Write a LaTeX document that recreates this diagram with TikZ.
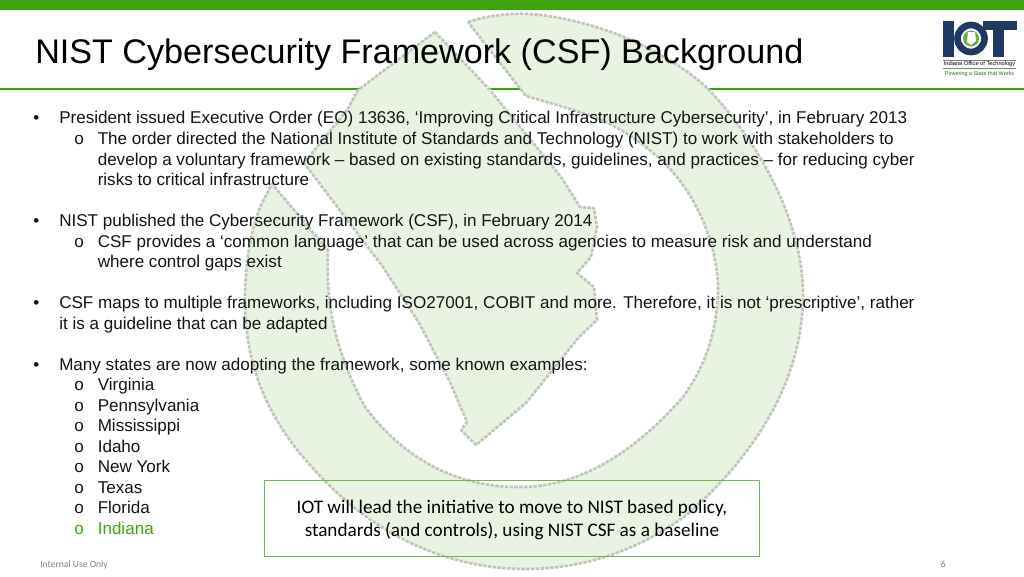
\documentclass[tikz,border=0pt]{standalone}
\usepackage{fontspec}
\setmainfont{Liberation Sans}
\newfontfamily\boxfont{Carlito}
\usetikzlibrary{positioning}
\definecolor{iotgreen}{HTML}{3FA40B}
\definecolor{iotnavy}{HTML}{1F3864}
\definecolor{ringfill}{HTML}{E8F3E2}
\definecolor{ringedge}{HTML}{BFC6BB}
\definecolor{boxedge}{HTML}{74B451}
\begin{document}
\begin{tikzpicture}[x=0.75pt,y=-0.75pt,line join=round]
	\tikzset{
		bodyline/.style={anchor=base west,inner sep=0pt,font=\fontsize{12.8}{14}\selectfont,text=black!92},
		ringpart/.style={fill=ringfill,draw=ringedge,line width=2pt,dash pattern=on 2.6pt off 1pt},
	}
	\useasboundingbox (0,0) rectangle (1024,576);
	\fill[white] (0,0) rectangle (1024,576);
	\fill[iotgreen] (0,0) rectangle (1024,10);
	\fill[iotgreen] (0,87.5) rectangle (1024,89.5);
	% ring
	\draw[ringpart] (468,22) .. controls (486,16) and (508,13) .. (529,14) .. controls (588,18) and (658,45) .. (704,85) .. controls (745,125) and (803,210) .. (803,295) .. controls (803,375) and (760,450) .. (690,512) .. controls (642,550) and (583,569) .. (526,569) .. controls (454,569) and (385,540) .. (331,487) .. controls (283,440) and (245,385) .. (245,300) .. controls (245,260) and (252,225) .. (262,203) -- (272,184) -- (328,250) .. controls (326,300) and (332,345) .. (365,407) .. controls (395,447) and (444,487) .. (519,487) .. controls (583,487) and (636,450) .. (683,397) .. controls (706,365) and (718,330) .. (718,285) .. controls (716,240) and (695,195) .. (669,168) .. controls (650,148) and (625,130) .. (597,118) .. controls (575,110) and (550,103) .. (526,96) -- cycle;
	% state
	\draw[ringpart] (435,32) -- (490,90) -- (561,177) -- (580,207) -- (594,208) -- (597,227) -- (591,257) -- (577,273) -- (594,287) -- (597,320) -- (579,337) -- (526,403) -- (476,445) -- (461,430) -- (467,422) -- (449,380) -- (419,323) -- (383,267) -- (304,163) -- (347,110) -- (358,90) -- cycle;
	% title
	\node[anchor=base west,inner sep=0pt,font=\fontsize{25.6}{30}\selectfont] (title) at (35,63) {NIST Cybersecurity Framework (CSF) Background};
	% logo
	\fill[iotnavy] (943,21) rectangle (954,57);
	\draw[iotnavy,line width=5pt] (971,38.5) circle (13.5);
	\fill[iotgreen!80] (971,38.5) circle (8);
	\fill[white] (968,32) -- (975,32) -- (976,41) -- (971,45) -- (967,42) -- cycle;
	\fill[iotnavy] (983,21) rectangle (1017,30);
	\fill[iotnavy] (993,21) rectangle (1004,57);
	\draw[gray,line width=0.5pt] (943,60) -- (1016,60);
	\draw[gray,line width=0.5pt] (943,68) -- (1016,68);
	\node[inner sep=0pt,font=\fontsize{4.25}{4}\selectfont] (logoname) at (979.5,64) {Indiana Office of Technology};
	\node[inner sep=0pt,font=\fontsize{4.1}{5}\selectfont,text=iotgreen!70!black] (logotag) at (979.5,74) {Powering a State that Works};
	% bullets
	\foreach \n/\y in {a/123.5,b/226.5,c/308.5,d/370}
		\node[bodyline] (bullet\n) at (33,\y) {•};
	\foreach \n/\y in {a/144.5,b/247,c/390.5,d/411,e/431.5,f/452,g/472.5,h/493,i/513.5}
		\node[bodyline] (sub\n) at (74,\y) {o};
	\node[bodyline,text=iotgreen] (subj) at (74,534) {o};
	\node[bodyline] (la) at (59,123.5) {President issued Executive Order (EO) 13636, ‘Improving Critical Infrastructure Cybersecurity’, in February 2013};
	\node[bodyline] (lb) at (97.5,144.5) {The order directed the National Institute of Standards and Technology (NIST) to work with stakeholders to};
	\node[bodyline] (lc) at (97.5,165) {develop a voluntary framework – based on existing standards, guidelines, and practices – for reducing cyber};
	\node[bodyline] (ld) at (97.5,185.5) {risks to critical infrastructure};
	\node[bodyline] (le) at (59,226.5) {NIST published the Cybersecurity Framework (CSF), in February 2014};
	\node[bodyline] (lf) at (97.5,247) {CSF provides a ‘common language’ that can be used across agencies to measure risk and understand};
	\node[bodyline] (lg) at (97.5,267.5) {where control gaps exist};
	\node[bodyline] (lh) at (59,308.5) {CSF maps to multiple frameworks, including ISO27001, COBIT and more. Therefore, it is not ‘prescriptive’, rather};
	\node[bodyline] (li) at (59,329) {it is a guideline that can be adapted};
	\node[bodyline] (lj) at (59,370) {Many states are now adopting the framework, some known examples:};
	\foreach \n/\y/\s in {k/390.5/Virginia,l/411/Pennsylvania,m/431.5/Mississippi,n/452/Idaho,o/472.5/New York,p/493/Texas,q/513.5/Florida}
		\node[bodyline] (l\n) at (97.5,\y) {\s};
	\node[bodyline,text=iotgreen] (lr) at (97.5,534) {Indiana};
	% call-out
	\node[draw=boxedge,line width=0.9pt,minimum width=371pt,minimum height=57.5pt,inner sep=0pt] (callout) at (512,518.5) {};
	\node[inner sep=0pt,align=center,font=\boxfont\fontsize{14.4}{17.4}\selectfont] (callouttext) at (512,520) {IOT will lead the initiative to move to NIST based policy,\\standards (and controls), using NIST CSF as a baseline};
	% footer
	\node[anchor=base west,inner sep=0pt,font=\boxfont\fontsize{7.2}{8}\selectfont,text=black!50] (footer) at (40,567) {Internal Use Only};
	\node[anchor=base east,inner sep=0pt,font=\boxfont\fontsize{7.2}{8}\selectfont,text=black!50] (pagenum) at (946,567) {6};
\end{tikzpicture}
\end{document}
